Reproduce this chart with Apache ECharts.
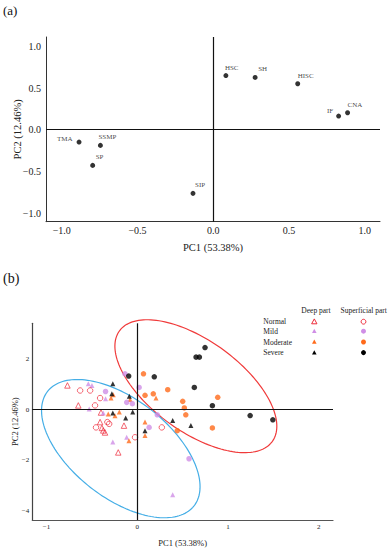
<!DOCTYPE html>
<html><head><meta charset="utf-8">
<script src="https://cdn.jsdelivr.net/npm/echarts@6/dist/echarts.min.js"></script>
<style>html,body{margin:0;padding:0;background:#fff}#c{width:389px;height:550px}</style>
</head><body><div id="c"></div>
<script>
// ---------- (a) loading plot ----------
const loadNames = ['HSC','SH','HISC','IF','CNA','TMA','SSMP','SP','SIP'];
const loadPC1 = [0.083, 0.276, 0.557, 0.827, 0.886, -0.886, -0.745, -0.796, -0.134];
const loadPC2 = [0.650, 0.628, 0.552, 0.164, 0.204, -0.148, -0.188, -0.428, -0.764];
const ticksA = [-1.0, -0.5, 0.0, 0.5, 1.0];

// ---------- (b) score plot ----------
const ticksBx = [-1, 0, 1, 2];
const ticksBy = [-4, -2, 0, 2];
const groups = ['Normal', 'Mild', 'Moderate', 'Severe'];
// Deep part (triangles) [PC1, PC2]
const deepNormal = [[-0.77,0.96],[-0.65,0.17],[-0.40,-0.11],[-0.41,-0.49],[-0.39,-0.72],[-0.375,-0.82],[-0.356,-0.90],[-0.147,-0.63],[-0.21,-1.69]];
const deepMild = [[-0.54,1.03],[-0.50,0.96],[-0.35,0.43],[-0.53,0.03],[-0.375,-0.13],[-0.27,-1.28],[-0.117,-1.09],[0.39,-3.36]];
const deepModerate = [[-0.265,0.59],[-0.29,0.46],[-0.08,0.40],[0.206,0.46],[-0.32,-0.17],[-0.246,-0.24],[-0.198,-0.09],[0.085,-0.49],[0.085,-1.02],[-0.092,-1.23]];
const deepSevere = [[-0.27,1.03],[-0.28,0.63],[-0.088,0.53],[-0.27,-0.13],[-0.051,-0.09],[-0.128,-0.33],[0.39,-0.43],[0.59,-0.62],[0.085,-0.83]];
// Superficial part (circles) [PC1, PC2]
const supNormal = [[-0.63,0.76],[-0.52,0.76],[-0.41,0.46],[-0.466,0.17],[-0.33,-0.49],[-0.31,-0.56],[-0.455,-0.70],[0.27,-0.70],[-0.025,-1.09]];
const supMild = [[-0.136,1.42],[-0.35,0.72],[0.02,0.88],[-0.117,0.29],[-0.055,0.24],[0.22,-0.20],[0.13,-0.70],[0.57,-1.94]];
const supModerate = [[0.068,1.42],[0.085,0.57],[0.176,0.63],[0.335,0.79],[0.50,0.33],[0.518,0.07],[0.534,-0.20],[0.886,0.49],[0.44,-0.83],[0.827,-0.72]];
const supSevere = [[0.746,2.46],[0.647,2.08],[0.684,2.08],[-0.095,1.33],[0.187,1.30],[0.628,0.88],[0.827,0.16],[1.243,-0.23],[1.493,-0.40]];
// Confidence ellipses: [centerPC1, centerPC2, varPC1, varPC2, covariance]
const redEllipse = [0.645, 0.93, 0.7957, 6.909, -1.412];
const blueEllipse = [-0.182, -1.54, 0.7626, 7.48, -1.314];

// ---------- styles ----------
const FONT = 'Liberation Serif';
const colors = {Normal:'#ee2a3a', Mild:'#d08ee6', Moderate:'#ff6a1a', Severe:'#000000'};
const labelBase = {show:true, formatter:'{b}', fontSize:7, color:'#111', fontFamily:FONT};
const labelPlace = {
  HSC:{position:'top', align:'left', verticalAlign:'bottom', distance:2, offset:[-1,0]},
  SH:{position:'top', align:'left', verticalAlign:'bottom', distance:2, offset:[3,0]},
  HISC:{position:'top', align:'left', verticalAlign:'bottom', distance:2, offset:[0,0]},
  CNA:{position:'top', align:'left', verticalAlign:'bottom', distance:2, offset:[0,0]},
  IF:{position:'left', align:'right', verticalAlign:'middle', distance:3, offset:[0,-5]},
  TMA:{position:'left', align:'right', verticalAlign:'middle', distance:4, offset:[0,-3]},
  SSMP:{position:'top', align:'left', verticalAlign:'bottom', distance:2, offset:[-2,0]},
  SP:{position:'top', align:'left', verticalAlign:'bottom', distance:2, offset:[3,0]},
  SIP:{position:'top', align:'left', verticalAlign:'bottom', distance:2, offset:[2,0]}
};
const minus = s => String(s).replace('-', '\u2212');
const fmt1 = v => minus(Number(v).toFixed(1));
const fmt0 = v => minus(String(Math.round(v)));

const zeroLines = {
  silent:true, symbol:'none', animation:false,
  label:{show:false},
  lineStyle:{color:'#111', width:1.2, type:'solid'},
  data:[{xAxis:0},{yAxis:0}]
};

function deepSeries(name, data){
  const hollow = name === 'Normal';
  return {
    type:'scatter', name:name+' (deep)', xAxisIndex:1, yAxisIndex:1,
    symbol:'triangle', symbolSize: hollow ? 5.5 : 5,
    itemStyle: hollow ? {color:'rgba(0,0,0,0)', borderColor:colors[name], borderWidth:0.9}
                      : {color:colors[name]},
    data:data, z:3
  };
}
function supSeries(name, data){
  const hollow = name === 'Normal';
  return {
    type:'scatter', name:name+' (superficial)', xAxisIndex:1, yAxisIndex:1,
    symbol:'circle', symbolSize: 5.5,
    itemStyle: hollow ? {color:'rgba(0,0,0,0)', borderColor:colors[name], borderWidth:0.9}
                      : {color:colors[name]},
    data:data, z:3
  };
}

const ellipseList = [redEllipse, blueEllipse];
const ellipseColors = ['#f03a3a', '#45aee6'];
function renderEllipse(params, api){
  const e = ellipseList[params.dataIndex];
  const cx = e[0], cy = e[1];
  const l11 = Math.sqrt(e[2]), l21 = e[4]/l11, l22 = Math.sqrt(e[3] - l21*l21);
  const pts = [];
  const n = 160;
  for (let i = 0; i <= n; i++){
    const t = i / n * 2 * Math.PI;
    const u = Math.cos(t), v = Math.sin(t);
    pts.push(api.coord([cx + l11*u, cy + l21*u + l22*v]));
  }
  return {type:'polyline', shape:{points:pts}, style:{stroke:ellipseColors[params.dataIndex], fill:'none', lineWidth:1.2}};
}

// legend (graphic) layout
const legX = 263.3, deepX = 314.3, supX = 363.5;
const legRowY = [321.7, 331.2, 342, 352.6];
const legend = [];
legend.push({type:'text', style:{x:316, y:310.7, text:'Deep part', font:'7.5px '+FONT, fill:'#222', textAlign:'center', textVerticalAlign:'middle'}});
legend.push({type:'text', style:{x:363.7, y:310.7, text:'Superficial part', font:'7.5px '+FONT, fill:'#222', textAlign:'center', textVerticalAlign:'middle'}});
groups.forEach((g, i) => {
  const y = legRowY[i];
  const hollow = g === 'Normal';
  legend.push({type:'text', style:{x:legX, y:y, text:g, font:'7.5px '+FONT, fill:'#222', textAlign:'left', textVerticalAlign:'middle'}});
  const h = hollow ? 2.8 : 2.4;
  legend.push({type:'polygon', shape:{points:[[deepX, y-h],[deepX-h*0.95, y+h*0.75],[deepX+h*0.95, y+h*0.75]]},
    style: hollow ? {fill:'none', stroke:colors[g], lineWidth:1} : {fill:colors[g]}});
  legend.push({type:'circle', shape:{cx:supX, cy:y, r: hollow ? 2.4 : 2.5},
    style: hollow ? {fill:'none', stroke:colors[g], lineWidth:1} : {fill:colors[g]}});
});
legend.push({type:'text', style:{x:3, y:10, text:'(a)', font:'13px '+FONT, fill:'#111', textAlign:'left', textVerticalAlign:'middle'}});
legend.push({type:'text', style:{x:3, y:278, text:'(b)', font:'14px '+FONT, fill:'#111', textAlign:'left', textVerticalAlign:'middle'}});

const chart = echarts.init(document.getElementById('c'), null, {renderer:'svg'});
chart.setOption({
  animation:false,
  backgroundColor:'#fff',
  textStyle:{fontFamily:FONT},
  grid:[
    {left:46, top:37, width:334, height:184.7},
    {left:32.3, top:323.3, width:300.7, height:196.7}
  ],
  xAxis:[
    {type:'value', gridIndex:0, min:-1.104, max:1.10,
     axisLine:{show:true, onZero:false, lineStyle:{color:'#333', width:1}},
     axisTick:{show:false}, splitLine:{show:false},
     axisLabel:{customValues:ticksA, formatter:fmt1, fontSize:10, color:'#222', margin:4, fontFamily:FONT},
     name:'PC1 (53.38%)', nameLocation:'middle', nameGap:20, nameMoveOverlap:false,
     nameTextStyle:{fontSize:10.5, color:'#222', fontFamily:FONT}},
    {type:'value', gridIndex:1, min:-1.157, max:2.156,
     axisLine:{show:true, onZero:false, lineStyle:{color:'#555', width:1.2}},
     axisTick:{show:false}, splitLine:{show:false},
     axisLabel:{customValues:ticksBx, formatter:fmt0, fontSize:7, color:'#222', margin:3, fontFamily:FONT},
     name:'PC1 (53.38%)', nameLocation:'middle', nameGap:18, nameMoveOverlap:false,
     nameTextStyle:{fontSize:8.5, color:'#222', fontFamily:FONT}}
  ],
  yAxis:[
    {type:'value', gridIndex:0, min:-1.104, max:1.113,
     axisLine:{show:true, onZero:false, lineStyle:{color:'#333', width:1}},
     axisTick:{show:false}, splitLine:{show:false},
     axisLabel:{customValues:ticksA, formatter:fmt1, fontSize:10, color:'#222', margin:5, fontFamily:FONT},
     name:'PC2 (12.46%)', nameLocation:'middle', nameGap:23, nameMoveOverlap:false,
     nameTextStyle:{fontSize:10.5, color:'#222', fontFamily:FONT}},
    {type:'value', gridIndex:1, min:-4.363, max:3.418,
     axisLine:{show:true, onZero:false, lineStyle:{color:'#444', width:1.2}},
     axisTick:{show:false}, splitLine:{show:false},
     axisLabel:{customValues:ticksBy, formatter:fmt0, fontSize:7, color:'#222', margin:3, fontFamily:FONT},
     name:'PC2 (12.46%)', nameLocation:'middle', nameGap:12.5, nameMoveOverlap:false,
     nameTextStyle:{fontSize:8.5, color:'#222', fontFamily:FONT}}
  ],
  series:[
    {type:'scatter', name:'loadings', xAxisIndex:0, yAxisIndex:0, symbolSize:5,
     itemStyle:{color:'#000'},
     label:labelBase,
     data: loadNames.map((n, i) => ({name:n, value:[loadPC1[i], loadPC2[i]],
       label:Object.assign({}, labelBase, labelPlace[n])})),
     markLine: zeroLines},
    {type:'custom', name:'ellipses', xAxisIndex:1, yAxisIndex:1, renderItem:renderEllipse, clip:false,
     data: ellipseList.map(e => [e[0], e[1]]), z:2, silent:true,
     markLine: zeroLines},
    deepSeries('Normal', deepNormal),
    deepSeries('Mild', deepMild),
    deepSeries('Moderate', deepModerate),
    deepSeries('Severe', deepSevere),
    supSeries('Normal', supNormal),
    supSeries('Mild', supMild),
    supSeries('Moderate', supModerate),
    supSeries('Severe', supSevere)
  ],
  graphic: legend
});
</script></body></html>
